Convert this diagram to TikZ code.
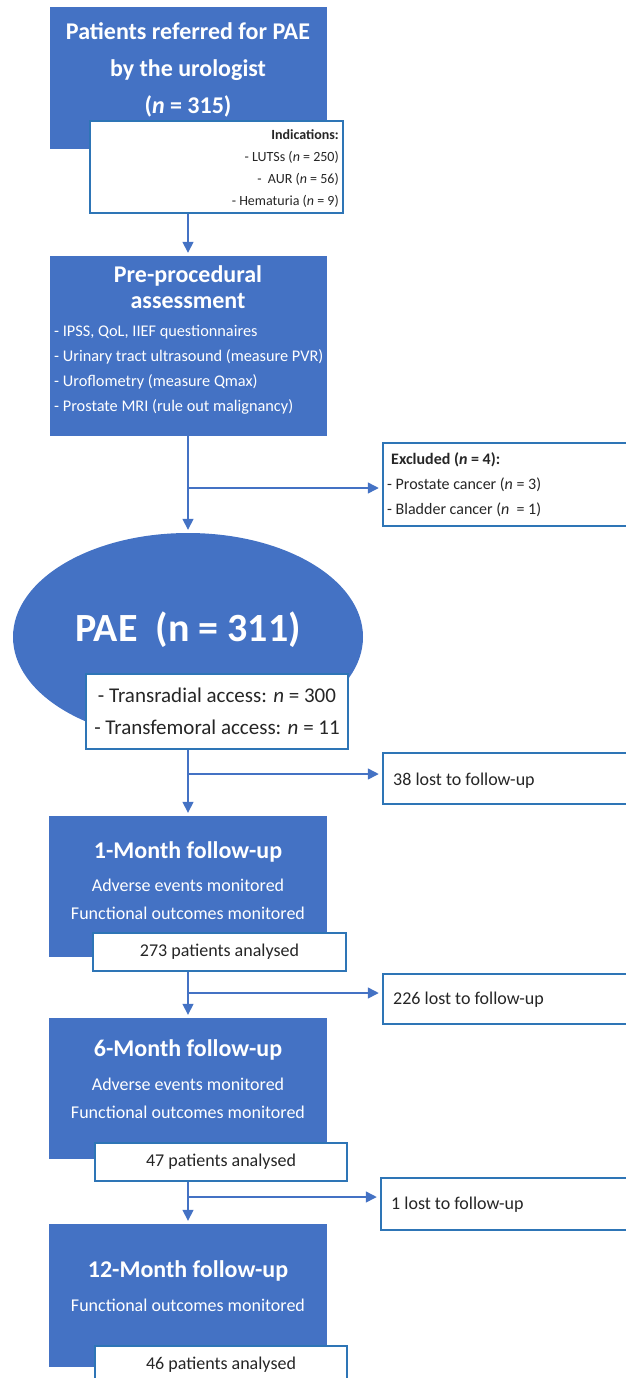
\documentclass[tikz,border=0pt]{standalone}
\usepackage{fontspec}
\setmainfont{Carlito}
\usetikzlibrary{positioning, arrows.meta, shapes.geometric}
\definecolor{fillblue}{HTML}{4472C4}
\definecolor{lineblue}{HTML}{2E75B6}
\definecolor{textgray}{HTML}{262626}

\begin{document}
\begin{tikzpicture}
			[x=1pt, y=-1pt,
			bluebox/.style={rectangle, fill=fillblue, inner sep=0pt},
			whitebox/.style={rectangle, fill=white, draw=lineblue, line width=2.5pt, inner sep=0pt, text=textgray},
			intext/.style={text=white, align=center, inner sep=0pt},
			sidetext/.style={anchor=west, align=left, inner sep=0pt, text=textgray},
			flow/.style={-{Triangle[length=11pt, width=11pt]}, draw=fillblue, line width=1.5pt, shorten >=3pt}]
			\useasboundingbox (0,0) rectangle (626,1378);
			\clip (0,0) rectangle (626,1378);

			% nodes %
			\node[bluebox, minimum width=277, minimum height=142] (refer) at (188,78) {};
			\node[intext, font=\fontsize{24}{37}\selectfont\bfseries] (refer-t) at (188,70) {Patients referred for PAE\\by the urologist\\(\textit{n} = 315)};
			\node[whitebox, minimum width=253, minimum height=92] (indic) at (216.5,167) {};
			\node[sidetext, anchor=east, align=right, font=\fontsize{14}{22}\selectfont] (indic-t) at (339,168.5) {\textbf{Indications:}\\- LUTSs (\textit{n} = 250)\\-\ \ AUR (\textit{n} = 56)\\- Hematuria (\textit{n} = 9)};

			\node[bluebox, minimum width=277, minimum height=180] (prepro) at (188,346) {};
			\node[intext, font=\fontsize{24}{26}\selectfont\bfseries] (prepro-t) at (188,287) {Pre-procedural\\assessment};
			\node[intext, anchor=west, align=left, font=\fontsize{16.3}{25}\selectfont] (prepro-l) at (54,370) {- IPSS, QoL, IIEF questionnaires\\- Urinary tract ultrasound (measure PVR)\\- Uroflometry (measure Qmax)\\- Prostate MRI (rule out malignancy)};

			\node[whitebox, minimum width=267, minimum height=83] (excl) at (516.5,484.5) {};
			\node[sidetext, font=\fontsize{16}{25}\selectfont] (excl-t) at (387,485) {\hspace*{4pt}\textbf{Excluded (\textit{n} = 4):}\\- Prostate cancer (\textit{n} = 3)\\- Bladder cancer (\textit{n}\ \ = 1)};

			\node[ellipse, fill=fillblue, minimum width=350, minimum height=208, inner sep=0pt] (pae) at (188,637) {};
			\node[intext, font=\fontsize{40}{48}\selectfont\bfseries] (pae-t) at (188,630) {PAE\ \ (n = 311)};
			\node[whitebox, minimum width=262, minimum height=75, align=center, font=\fontsize{21}{32}\selectfont] (access) at (217,711.5) {- Transradial access: \textit{n} = 300\\- Transfemoral access: \textit{n} = 11};

			\node[whitebox, minimum width=267, minimum height=51] (lost1) at (516.5,778.5) {};
			\node[sidetext, font=\fontsize{18}{22}\selectfont] (lost1-t) at (393,781) {38 lost to follow-up};

			\node[bluebox, minimum width=278, minimum height=141] (fu1) at (188,886.5) {};
			\node[intext, font=\fontsize{24}{28}\selectfont\bfseries] (fu1-t) at (188,852) {1-Month follow-up};
			\node[intext, font=\fontsize{18}{28}\selectfont] (fu1-s) at (188,899) {Adverse events monitored\\Functional outcomes monitored};
			\node[whitebox, minimum width=253, minimum height=38, font=\fontsize{18}{22}\selectfont] (pat1) at (219.5,952) {273 patients analysed};

			\node[whitebox, minimum width=267, minimum height=50] (lost2) at (516.5,999) {};
			\node[sidetext, font=\fontsize{18}{22}\selectfont] (lost2-t) at (393,1000) {226 lost to follow-up};

			\node[bluebox, minimum width=278, minimum height=141] (fu2) at (188,1088.5) {};
			\node[intext, font=\fontsize{24}{28}\selectfont\bfseries] (fu2-t) at (188,1050) {6-Month follow-up};
			\node[intext, font=\fontsize{18}{28}\selectfont] (fu2-s) at (188,1098.5) {Adverse events monitored\\Functional outcomes monitored};
			\node[whitebox, minimum width=252, minimum height=38, font=\fontsize{18}{22}\selectfont] (pat2) at (221,1162) {47 patients analysed};

			\node[whitebox, minimum width=269, minimum height=52] (lost3) at (515.5,1204) {};
			\node[sidetext, font=\fontsize{18}{22}\selectfont] (lost3-t) at (391,1205) {1 lost to follow-up};

			\node[bluebox, minimum width=278, minimum height=143] (fu3) at (188,1295.5) {};
			\node[intext, font=\fontsize{24}{28}\selectfont\bfseries] (fu3-t) at (188,1271) {12-Month follow-up};
			\node[intext, font=\fontsize{18}{28}\selectfont] (fu3-s) at (188,1305) {Functional outcomes monitored};
			\node[whitebox, minimum width=252, minimum height=38, font=\fontsize{18}{22}\selectfont] (pat3) at (221,1365) {46 patients analysed};

			\coordinate (split1) at (188,488);
			\coordinate (split2) at (188,774);
			\coordinate (split3) at (188,993);
			\coordinate (split4) at (188,1197);

			% edges %
			\draw[flow] (indic.south -| prepro.north) -- (prepro.north);
			\draw[flow] (prepro.south) -- (pae.north);
			\draw[flow] (split1) -- (split1 -| excl.west);
			\draw[flow] (access.south -| fu1.north) -- (fu1.north);
			\draw[flow] (split2) -- (split2 -| lost1.west);
			\draw[flow] (pat1.south -| fu2.north) -- (fu2.north);
			\draw[flow] (split3) -- (split3 -| lost2.west);
			\draw[flow] (pat2.south -| fu3.north) -- (fu3.north);
			\draw[flow] (split4) -- (split4 -| lost3.west);
\end{tikzpicture}
\end{document}
